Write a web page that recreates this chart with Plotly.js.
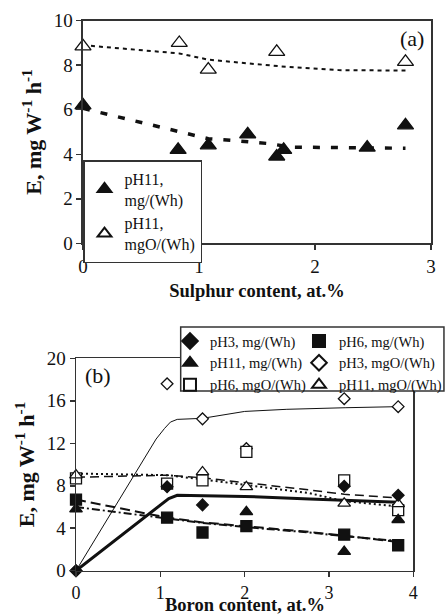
<!DOCTYPE html>
<html>
<head>
<meta charset="utf-8">
<script src="https://cdn.plot.ly/plotly-3.0.1.min.js"></script>
<style>
  html, body { margin: 0; padding: 0; background: #fff; }
  #chart { width: 447px; height: 616px; }
</style>
</head>
<body>
<div id="chart"></div>
<script>
// ---- (a) sulphur content, pH 11 ----
const sulphurMg   = [0, 0.82, 1.08, 1.42, 1.67, 1.73, 2.45, 2.78];
const pH11MgS     = [6.2, 4.2, 4.4, 4.9, 3.9, 4.2, 4.3, 5.3];
const sulphurMgO  = [0, 0.83, 1.08, 1.67, 2.78];
const pH11MgOS    = [8.85, 9.0, 7.8, 8.6, 8.15];

// smoothed trends for (a)
const trendSMgX   = [0, 0.82, 1.08, 1.3, 1.6, 1.8, 2.45, 2.78];
const trendSMgY   = [6.06, 5.0, 4.7, 4.62, 4.48, 4.32, 4.28, 4.27];
const trendSMgOX  = [0, 0.83, 1.08, 1.3, 1.7, 2.2, 2.78];
const trendSMgOY  = [8.9, 8.53, 8.25, 8.15, 7.95, 7.78, 7.76];

// ---- (b) boron content ----
const boron       = [0, 1.08, 1.5, 2.02, 3.18, 3.82];
const pH3Mg       = [0, 7.9, 6.2, null, 7.95, 7.1];
const pH6Mg       = [6.7, 5.0, 3.6, 4.2, 3.4, 2.4];
const pH11Mg      = [5.8, null, null, 5.55, 1.8, 4.8];
const pH3MgO      = [0, 17.6, 14.3, 11.5, 16.2, 15.45];
const pH6MgO      = [8.7, 8.2, 8.5, 11.2, 8.5, 5.7];
const pH11MgO     = [9.0, null, 9.3, 7.9, 6.35, 6.3];

// smoothed trends for (b)
const trendPH3MgOX = [0, 0.95, 1.05, 1.12, 1.2, 1.5, 2.0, 2.5, 3.2, 3.82];
const trendPH3MgOY = [0, 12.4, 13.4, 14.0, 14.25, 14.35, 15.0, 15.2, 15.35, 15.45];
const trendPH3MgX  = [0, 0.99, 1.1, 1.2, 2.0, 2.77, 3.18, 3.82];
const trendPH3MgY  = [0, 6.05, 6.8, 7.1, 7.0, 6.75, 6.65, 6.45];
const trendBX      = [0, 1.08, 1.5, 2.02, 2.77, 3.18, 3.82];
const trendPH6MgOY = [8.8, 9.0, 8.75, 8.3, 7.6, 7.2, 6.85];
const trendPH11MgOY= [9.15, 9.0, 8.6, 8.05, 7.3, 6.55, 6.05];
const trendPH6MgY  = [6.7, 5.0, 4.55, 4.2, 3.65, 3.3, 2.7];
const trendPH11MgY = [6.0, 4.9, 4.5, 4.1, 3.6, 3.25, 2.8];

const SERIF = '"Liberation Serif", "Times New Roman", Times, serif';
const INK = '#111';

function trend(x, y, xa, ya, width, dash) {
  return { x, y, xaxis: xa, yaxis: ya, type: 'scatter', mode: 'lines',
    line: { color: INK, width, dash }, showlegend: false, hoverinfo: 'skip' };
}
// hollow markers are drawn with a white fill so the trend lines don't show through
function pts(x, y, xa, ya, name, symbol, hollow, size, legend, rank) {
  return { x, y, xaxis: xa, yaxis: ya, type: 'scatter', mode: 'markers', name,
    legend, legendrank: rank, cliponaxis: false,
    marker: { symbol, size, color: hollow ? '#fff' : INK,
      line: { color: INK, width: 1.3 } } };
}

const traces = [
  // (a)
  trend(trendSMgOX, trendSMgOY, 'x', 'y', 2, '4px,4px'),
  trend(trendSMgX, trendSMgY, 'x', 'y', 3.5, '7px,11px'),
  pts(sulphurMg, pH11MgS, 'x', 'y', 'pH11,<br>mg/(Wh)', 'triangle-up', false, 14, 'legend', 1),
  pts(sulphurMgO, pH11MgOS, 'x', 'y', 'pH11,<br>mgO/(Wh)', 'triangle-up', true, 14, 'legend', 2),
  // (b)
  trend(trendPH3MgOX, trendPH3MgOY, 'x2', 'y2', 1, 'solid'),
  trend(trendPH3MgX, trendPH3MgY, 'x2', 'y2', 3, 'solid'),
  trend(trendBX, trendPH6MgOY, 'x2', 'y2', 1.5, '9px,5px'),
  trend(trendBX, trendPH11MgOY, 'x2', 'y2', 2, '2px,3px'),
  trend(trendBX, trendPH6MgY, 'x2', 'y2', 2, '10px,5px'),
  trend(trendBX, trendPH11MgY, 'x2', 'y2', 2, '8px,3px,2px,3px'),
  // hollow series first so the filled ones sit on top;
  // left legend column = legend2, right column = legend3
  pts(boron, pH3MgO, 'x2', 'y2', 'pH3, mgO/(Wh)', 'diamond', true, 9, 'legend3', 2),
  pts(boron, pH6MgO, 'x2', 'y2', 'pH6, mgO/(Wh)', 'square', true, 11, 'legend2', 3),
  pts(boron, pH11MgO, 'x2', 'y2', 'pH11, mgO/(Wh)', 'triangle-up', true, 11, 'legend3', 3),
  pts(boron, pH3Mg, 'x2', 'y2', 'pH3, mg/(Wh)', 'diamond', false, 9, 'legend2', 1),
  pts(boron, pH6Mg, 'x2', 'y2', 'pH6, mg/(Wh)', 'square', false, 11, 'legend3', 1),
  pts(boron, pH11Mg, 'x2', 'y2', 'pH11, mg/(Wh)', 'triangle-up', false, 11, 'legend2', 2)
];

const axisBase = {
  showgrid: false, zeroline: false, showline: true, mirror: true,
  linecolor: '#333', linewidth: 1.5, ticks: 'outside', ticklen: 5,
  tickcolor: '#333', tickwidth: 1.5,
  tickfont: { family: SERIF, size: 19, color: INK }
};
const xTitleFont = { family: SERIF, size: 18.5, color: INK, weight: 'bold' };
const yTitleFont = { family: SERIF, size: 22, color: INK, weight: 'bold' };
const yTitle = 'E, mg W<sup>-1</sup> h<sup>-1</sup>';

const colLegend = (x) => ({
  x, y: 0.4724, xanchor: 'left', yanchor: 'top',
  bgcolor: 'rgba(0,0,0,0)', borderwidth: 0,
  font: { family: SERIF, size: 14.5, color: INK },
  itemwidth: 30, itemsizing: 'constant', tracegroupgap: 0
});

const layout = {
  width: 447, height: 616,
  margin: { l: 76, r: 15, t: 0, b: 0 },
  paper_bgcolor: '#fff', plot_bgcolor: '#fff',
  font: { family: SERIF, color: INK },
  xaxis: Object.assign({}, axisBase, {
    domain: [0.0197, 1], range: [0, 3], dtick: 1, anchor: 'y',
    title: { text: 'Sulphur content, at.%', font: xTitleFont, standoff: 8 }
  }),
  yaxis: Object.assign({}, axisBase, {
    domain: [0.605, 0.9664], range: [0, 10], dtick: 2, anchor: 'x',
    title: { text: yTitle, font: yTitleFont, standoff: 6 }
  }),
  xaxis2: Object.assign({}, axisBase, {
    domain: [0, 0.9503], range: [0, 4], dtick: 1, anchor: 'y2',
    tickfont: { family: SERIF, size: 18, color: INK }
  }),
  yaxis2: Object.assign({}, axisBase, {
    domain: [0.0735, 0.4183], range: [0, 20], dtick: 4, anchor: 'x2',
    title: { text: yTitle, font: yTitleFont, standoff: 6 }
  }),
  legend: {
    x: 0.0197, y: 0.740, xanchor: 'left', yanchor: 'top',
    bgcolor: '#fff', bordercolor: '#333', borderwidth: 1.5,
    font: { family: SERIF, size: 16, color: INK },
    itemwidth: 30, itemsizing: 'constant', tracegroupgap: 0
  },
  legend2: colLegend(0.264),
  legend3: colLegend(0.629),
  shapes: [
    // frame behind the two legend columns of (b)
    { type: 'rect', xref: 'paper', yref: 'paper', layer: 'above',
      x0: 0.2949, x1: 1.0365, y0: 0.3653, y1: 0.4692,
      fillcolor: '#fff', line: { color: '#333', width: 1.5 } }
  ],
  annotations: [
    { text: '(a)', xref: 'x domain', yref: 'y domain', x: 0.946, y: 0.922,
      xanchor: 'center', yanchor: 'middle',
      showarrow: false, font: { family: SERIF, size: 22, color: INK } },
    { text: '(b)', xref: 'x2 domain', yref: 'y2 domain', x: 0.064, y: 0.921,
      xanchor: 'center', yanchor: 'middle',
      showarrow: false, font: { family: SERIF, size: 22, color: INK } },
    // x-axis title of (b), pinned to the bottom edge of the figure
    { text: 'Boron content, at.%', xref: 'x2 domain', yref: 'paper', x: 0.5, y: 0,
      xanchor: 'center', yanchor: 'bottom', borderpad: 0,
      showarrow: false, font: xTitleFont }
  ],
  showlegend: true
};

Plotly.newPlot('chart', traces, layout, { displayModeBar: false, staticPlot: true });
</script>
</body>
</html>
